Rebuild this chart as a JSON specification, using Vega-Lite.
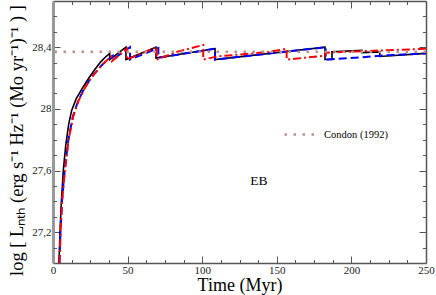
{
  "$schema": "https://vega.github.io/schema/vega-lite/v6.json",
  "width": 373,
  "height": 262,
  "autosize": {"type": "none"},
  "padding": {"left": 53, "top": 1, "right": 10, "bottom": 32},
  "config": {
    "view": {"stroke": null},
    "font": "Liberation Serif",
    "axis": {"grid": false, "labelFont": "Liberation Serif", "titleFont": "Liberation Serif", "labelColor": "#222", "titleColor": "#000", "titleFontWeight": "normal", "tickColor": "#555", "domainColor": "#555", "tickWidth": 1}
  },
  "datasets": {
    "curves": [
      {"s": "k", "i": 1, "x": 4.0, "y": 27.0},
      {"s": "k", "i": 2, "x": 4.7, "y": 27.2},
      {"s": "k", "i": 3, "x": 5.5, "y": 27.38},
      {"s": "k", "i": 4, "x": 6.9, "y": 27.6},
      {"s": "k", "i": 5, "x": 8.5, "y": 27.76},
      {"s": "k", "i": 6, "x": 10.5, "y": 27.9},
      {"s": "k", "i": 7, "x": 12.5, "y": 27.99},
      {"s": "k", "i": 8, "x": 15.5, "y": 28.065},
      {"s": "k", "i": 9, "x": 20, "y": 28.14},
      {"s": "k", "i": 10, "x": 24, "y": 28.2},
      {"s": "k", "i": 11, "x": 28, "y": 28.255},
      {"s": "k", "i": 12, "x": 32, "y": 28.305},
      {"s": "k", "i": 13, "x": 35, "y": 28.335},
      {"s": "k", "i": 14, "x": 38, "y": 28.36},
      {"s": "k", "i": 15, "x": 38, "y": 28.32},
      {"s": "k", "i": 16, "x": 48.9, "y": 28.4},
      {"s": "k", "i": 17, "x": 48.9, "y": 28.32},
      {"s": "k", "i": 18, "x": 69, "y": 28.4},
      {"s": "k", "i": 19, "x": 69, "y": 28.33},
      {"s": "k", "i": 20, "x": 108.6, "y": 28.39},
      {"s": "k", "i": 21, "x": 108.6, "y": 28.32},
      {"s": "k", "i": 22, "x": 182.3, "y": 28.4},
      {"s": "k", "i": 23, "x": 182.3, "y": 28.32},
      {"s": "k", "i": 24, "x": 187, "y": 28.32},
      {"s": "k", "i": 25, "x": 187, "y": 28.37},
      {"s": "k", "i": 26, "x": 207, "y": 28.38},
      {"s": "k", "i": 27, "x": 207, "y": 28.365},
      {"s": "k", "i": 28, "x": 219, "y": 28.37},
      {"s": "k", "i": 29, "x": 219, "y": 28.34},
      {"s": "k", "i": 30, "x": 250, "y": 28.36},
      {"s": "b", "i": 1, "x": 4.3, "y": 27.0},
      {"s": "b", "i": 2, "x": 5.0, "y": 27.2},
      {"s": "b", "i": 3, "x": 6.0, "y": 27.4},
      {"s": "b", "i": 4, "x": 7.8, "y": 27.6},
      {"s": "b", "i": 5, "x": 10.3, "y": 27.8},
      {"s": "b", "i": 6, "x": 13.3, "y": 27.95},
      {"s": "b", "i": 7, "x": 16.8, "y": 28.05},
      {"s": "b", "i": 8, "x": 20.8, "y": 28.13},
      {"s": "b", "i": 9, "x": 25.3, "y": 28.2},
      {"s": "b", "i": 10, "x": 31.3, "y": 28.27},
      {"s": "b", "i": 11, "x": 35.5, "y": 28.31},
      {"s": "b", "i": 12, "x": 40, "y": 28.345},
      {"s": "b", "i": 13, "x": 40, "y": 28.32},
      {"s": "b", "i": 14, "x": 51.6, "y": 28.4},
      {"s": "b", "i": 15, "x": 51.6, "y": 28.32},
      {"s": "b", "i": 16, "x": 70.6, "y": 28.395},
      {"s": "b", "i": 17, "x": 70.6, "y": 28.332},
      {"s": "b", "i": 18, "x": 108.6, "y": 28.39},
      {"s": "b", "i": 19, "x": 108.6, "y": 28.32},
      {"s": "b", "i": 20, "x": 182.8, "y": 28.4},
      {"s": "b", "i": 21, "x": 182.8, "y": 28.32},
      {"s": "b", "i": 22, "x": 207, "y": 28.335},
      {"s": "b", "i": 23, "x": 219, "y": 28.345},
      {"s": "b", "i": 24, "x": 250, "y": 28.36},
      {"s": "r", "i": 1, "x": 4.4, "y": 27.0},
      {"s": "r", "i": 2, "x": 5.1, "y": 27.2},
      {"s": "r", "i": 3, "x": 6.1, "y": 27.4},
      {"s": "r", "i": 4, "x": 8.0, "y": 27.6},
      {"s": "r", "i": 5, "x": 10.5, "y": 27.8},
      {"s": "r", "i": 6, "x": 13.5, "y": 27.95},
      {"s": "r", "i": 7, "x": 17, "y": 28.05},
      {"s": "r", "i": 8, "x": 21, "y": 28.13},
      {"s": "r", "i": 9, "x": 25.5, "y": 28.2},
      {"s": "r", "i": 10, "x": 31.5, "y": 28.27},
      {"s": "r", "i": 11, "x": 35, "y": 28.305},
      {"s": "r", "i": 12, "x": 39, "y": 28.34},
      {"s": "r", "i": 13, "x": 39.5, "y": 28.31},
      {"s": "r", "i": 14, "x": 49.5, "y": 28.39},
      {"s": "r", "i": 15, "x": 49.5, "y": 28.32},
      {"s": "r", "i": 16, "x": 69.5, "y": 28.4},
      {"s": "r", "i": 17, "x": 69.5, "y": 28.32},
      {"s": "r", "i": 18, "x": 83, "y": 28.37},
      {"s": "r", "i": 19, "x": 100.7, "y": 28.415},
      {"s": "r", "i": 20, "x": 100.7, "y": 28.32},
      {"s": "r", "i": 21, "x": 110, "y": 28.34},
      {"s": "r", "i": 22, "x": 145, "y": 28.37},
      {"s": "r", "i": 23, "x": 156.6, "y": 28.39},
      {"s": "r", "i": 24, "x": 156.6, "y": 28.32},
      {"s": "r", "i": 25, "x": 182.5, "y": 28.345},
      {"s": "r", "i": 26, "x": 182.5, "y": 28.365},
      {"s": "r", "i": 27, "x": 250, "y": 28.39}
    ]
  },
  "layer": [
    {
      "data": {"name": "curves"},
      "transform": [{"filter": "datum.s == 'k'"}],
      "mark": {"type": "line", "clip": true, "color": "#000000", "strokeWidth": 1.6},
      "encoding": {
        "x": {
          "field": "x", "type": "quantitative",
          "scale": {"domain": [0, 250], "nice": false, "zero": false},
          "axis": {
            "orient": "bottom", "title": "Time (Myr)", "titleFontSize": 18, "titlePadding": 1,
            "values": [0, 50, 100, 150, 200, 250],
            "labelFontSize": 11, "labelPadding": 8, "labelFlush": false,
            "tickSize": -7, "domainColor": "#555", "domainWidth": 1.5
          }
        },
        "y": {
          "field": "y", "type": "quantitative",
          "scale": {"domain": [27.0, 28.7], "nice": false, "zero": false},
          "axis": {
            "orient": "left",
            "title": "log [ Lₙₜₕ (erg s⁻¹ Hz⁻¹ (Mo yr⁻¹)⁻¹ ) ]",
            "titleFontSize": 18.5, "titlePadding": 5, "titleY": 139,
            "values": [27.2, 27.6, 28.0, 28.4],
            "labelExpr": "replace(toString(round(datum.value*10)/10), '.', ',')",
            "labelFontSize": 11, "labelPadding": 9, "labelFlush": false,
            "tickSize": -7, "domainColor": "#999", "domainWidth": 3
          }
        },
        "order": {"field": "i", "type": "quantitative"}
      }
    },
    {
      "data": {"name": "curves"},
      "transform": [{"filter": "datum.s == 'b'"}],
      "mark": {"type": "line", "clip": true, "color": "#0000ff", "strokeWidth": 2, "strokeDash": [8, 4]},
      "encoding": {
        "x": {
          "field": "x", "type": "quantitative",
          "scale": {"domain": [0, 250], "nice": false, "zero": false},
          "axis": {
            "orient": "bottom", "title": null, "labels": false, "domain": false,
            "values": [12.5, 25, 37.5, 62.5, 75, 87.5, 112.5, 125, 137.5, 162.5, 175, 187.5, 212.5, 225, 237.5],
            "tickSize": -3.5
          }
        },
        "y": {
          "field": "y", "type": "quantitative",
          "scale": {"domain": [27.0, 28.7], "nice": false, "zero": false},
          "axis": {
            "orient": "left", "title": null, "labels": false, "domain": false,
            "values": [27.1, 27.3, 27.4, 27.5, 27.7, 27.8, 27.9, 28.1, 28.2, 28.3, 28.5, 28.6],
            "tickSize": -3.5
          }
        },
        "order": {"field": "i", "type": "quantitative"}
      }
    },
    {
      "data": {"name": "curves"},
      "transform": [{"filter": "datum.s == 'r'"}],
      "mark": {"type": "line", "clip": true, "color": "#ff0000", "strokeWidth": 2, "strokeDash": [8, 3, 2, 3]},
      "encoding": {
        "x": {
          "field": "x", "type": "quantitative",
          "scale": {"domain": [0, 250], "nice": false, "zero": false},
          "axis": {
            "orient": "top", "title": null, "labels": false,
            "values": [0, 50, 100, 150, 200, 250],
            "tickSize": -7, "domainColor": "#555", "domainWidth": 1.5
          }
        },
        "y": {
          "field": "y", "type": "quantitative",
          "scale": {"domain": [27.0, 28.7], "nice": false, "zero": false},
          "axis": {
            "orient": "right", "title": null, "labels": false,
            "values": [27.2, 27.6, 28.0, 28.4],
            "tickSize": -7, "domainColor": "#555", "domainWidth": 1.5
          }
        },
        "order": {"field": "i", "type": "quantitative"}
      }
    },
    {
      "data": {"values": [{"label": "Condon (1992)", "y": 28.37}]},
      "mark": {"type": "rule", "strokeWidth": 2.5, "strokeDash": [2.5, 6.5]},
      "encoding": {
        "y": {"field": "y", "type": "quantitative", "scale": {"domain": [27.0, 28.7], "nice": false, "zero": false}, "axis": null},
        "color": {
          "field": "label", "type": "nominal",
          "scale": {"range": ["#bc8f8f"]},
          "legend": {"title": null, "orient": "none", "legendX": 230, "legendY": 117, "symbolType": "stroke", "symbolSize": 900, "symbolStrokeWidth": 2.5, "symbolDash": [2.5, 6.5], "labelFont": "Liberation Serif", "labelFontSize": 10.5, "labelOffset": 8, "labelColor": "#000", "padding": 0}
        }
      }
    },
    {
      "data": {"values": [{"label": "EB", "x": 138, "y": 27.53}]},
      "mark": {"type": "text", "fontSize": 13.5, "font": "Liberation Serif", "color": "#000"},
      "encoding": {
        "text": {"field": "label"},
        "x": {
          "field": "x", "type": "quantitative",
          "scale": {"domain": [0, 250], "nice": false, "zero": false},
          "axis": {
            "orient": "top", "title": null, "labels": false, "domain": false,
            "values": [12.5, 25, 37.5, 62.5, 75, 87.5, 112.5, 125, 137.5, 162.5, 175, 187.5, 212.5, 225, 237.5],
            "tickSize": -3.5
          }
        },
        "y": {
          "field": "y", "type": "quantitative",
          "scale": {"domain": [27.0, 28.7], "nice": false, "zero": false},
          "axis": {
            "orient": "right", "title": null, "labels": false, "domain": false,
            "values": [27.1, 27.3, 27.4, 27.5, 27.7, 27.8, 27.9, 28.1, 28.2, 28.3, 28.5, 28.6],
            "tickSize": -3.5
          }
        }
      }
    }
  ],
  "resolve": {
    "axis": {"x": "independent", "y": "independent"}
  }
}
